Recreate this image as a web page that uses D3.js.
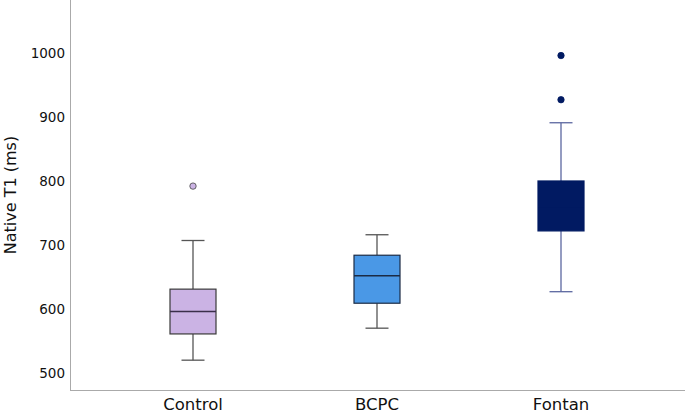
<!DOCTYPE html>
<html>
<head>
<meta charset="utf-8">
<script src="https://cdn.jsdelivr.net/npm/d3@7"></script>
<style>
  body { margin: 0; background: #fff; }
  text { font-family: "DejaVu Sans", sans-serif; fill: #111; }
</style>
</head>
<body>
<div id="chart"></div>
<script>
var width = 685;
var height = 413;

// box summaries
var groups = ["Control", "BCPC", "Fontan"];
var whiskLow = [520, 570, 627];
var q1 = [561, 609, 722];
var median = [596, 652, 760];
var q3 = [631, 684, 800];
var whiskHigh = [707, 716, 891];
var outliers = [[792], [], [927, 996]];
var yTicks = [500, 600, 700, 800, 900, 1000];

var fills = ["#cbb3e4", "#4a98e6", "#011a62"];
var edges = ["#3a3a3a", "#1b2b45", "#011a62"];
var whiskColors = ["#555555", "#555555", "#5b67a0"];
var medColors = ["#3a2f4a", "#1b2b45", "#011a62"];

var svg = d3.select("#chart")
    .append("svg")
    .attr("width", width)
    .attr("height", height);

var y = d3.scaleLinear()
    .domain([473.4, 1082.8])
    .range([390, 0]);

var x = d3.scalePoint()
    .domain(groups)
    .range([193, 561]);

var boxW = 46;
var capW = 23;

// axes lines
svg.append("line")
    .attr("x1", 70.5).attr("x2", 70.5)
    .attr("y1", 0).attr("y2", 390.5)
    .attr("stroke", "#aaaaaa").attr("stroke-width", 1);
svg.append("line")
    .attr("x1", 70).attr("x2", width)
    .attr("y1", 390.5).attr("y2", 390.5)
    .attr("stroke", "#aaaaaa").attr("stroke-width", 1);

// tick labels
svg.selectAll(".ytick")
    .data(yTicks)
    .enter().append("text")
    .attr("class", "ytick")
    .attr("x", 65)
    .attr("y", function(d) { return y(d); })
    .attr("dy", "0.36em")
    .attr("text-anchor", "end")
    .style("font-size", "13.5px")
    .text(function(d) { return d; });

svg.selectAll(".xlab")
    .data(groups)
    .enter().append("text")
    .attr("class", "xlab")
    .attr("x", function(d) { return x(d); })
    .attr("y", 410)
    .attr("text-anchor", "middle")
    .style("font-size", "16.5px")
    .text(function(d) { return d; });

svg.append("text")
    .attr("transform", "translate(16,195) rotate(-90)")
    .attr("text-anchor", "middle")
    .style("font-size", "16px")
    .text("Native T1 (ms)");

groups.forEach(function(g, i) {
    var cx = x(g);
    var grp = svg.append("g");

    // whisker stems
    grp.append("line")
        .attr("x1", cx).attr("x2", cx)
        .attr("y1", y(whiskHigh[i])).attr("y2", y(q3[i]))
        .attr("stroke", whiskColors[i]).attr("stroke-width", 1.3);
    grp.append("line")
        .attr("x1", cx).attr("x2", cx)
        .attr("y1", y(q1[i])).attr("y2", y(whiskLow[i]))
        .attr("stroke", whiskColors[i]).attr("stroke-width", 1.3);

    // caps
    [whiskLow[i], whiskHigh[i]].forEach(function(v) {
        grp.append("line")
            .attr("x1", cx - capW / 2).attr("x2", cx + capW / 2)
            .attr("y1", y(v)).attr("y2", y(v))
            .attr("stroke", whiskColors[i]).attr("stroke-width", 1.3);
    });

    // box
    grp.append("rect")
        .attr("x", cx - boxW / 2)
        .attr("y", y(q3[i]))
        .attr("width", boxW)
        .attr("height", y(q1[i]) - y(q3[i]))
        .attr("fill", fills[i])
        .attr("stroke", edges[i])
        .attr("stroke-width", 1.2);

    grp.append("line")
        .attr("x1", cx - boxW / 2).attr("x2", cx + boxW / 2)
        .attr("y1", y(median[i])).attr("y2", y(median[i]))
        .attr("stroke", medColors[i]).attr("stroke-width", 1.4);

    grp.selectAll("circle")
        .data(outliers[i])
        .enter().append("circle")
        .attr("cx", cx)
        .attr("cy", function(d) { return y(d); })
        .attr("r", 3.2)
        .attr("fill", fills[i])
        .attr("stroke", i == 0 ? "#444" : fills[i])
        .attr("stroke-width", 0.8);
});
</script>
</body>
</html>
